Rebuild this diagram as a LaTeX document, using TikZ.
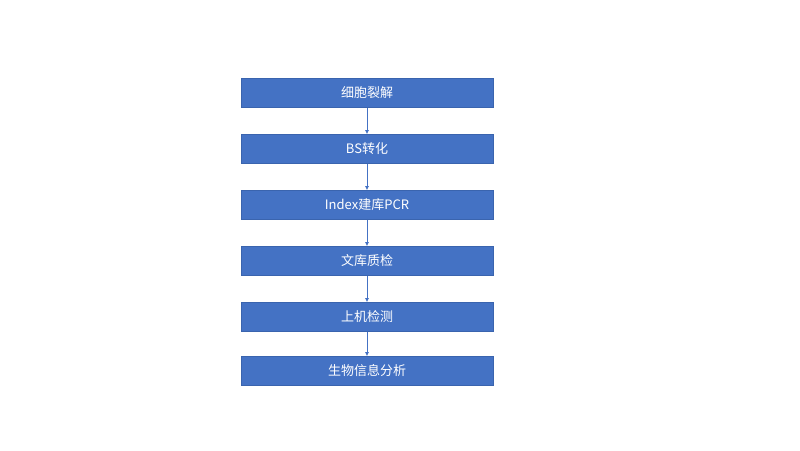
\documentclass[tikz,border=0pt]{standalone}
\usepackage{fontspec}
\setmainfont{Noto Sans CJK SC}
\usetikzlibrary{arrows.meta}
\definecolor{boxblue}{HTML}{4472C4}
\definecolor{boxline}{HTML}{3A64AE}
\tikzset{>={Latex[length=4pt,width=4pt]}}
\tikzset{stepbox/.style={draw=boxline, line width=0.6pt, fill=boxblue, text=white,
    minimum width=252pt, minimum height=29pt, inner sep=0pt, font=\fontsize{13}{15}\selectfont}}
\begin{document}
\begin{tikzpicture}[x=1pt,y=-1pt]
\useasboundingbox (0,0) rectangle (800,450);
    %process steps
    \foreach \i/\t/\y in {1/细胞裂解/93, 2/BS转化/149, 3/Index建库PCR/205,
        4/文库质检/261, 5/上机检测/317, 6/生物信息分析/371}
    {\node[stepbox] (s\i) at (367,\y) {\t};}
    %links
    \foreach \from/\to in {1/2, 2/3, 3/4, 4/5, 5/6}
    {\draw[->, boxblue, line width=1pt] (s\from) -- (s\to);}
\end{tikzpicture}
\end{document}
